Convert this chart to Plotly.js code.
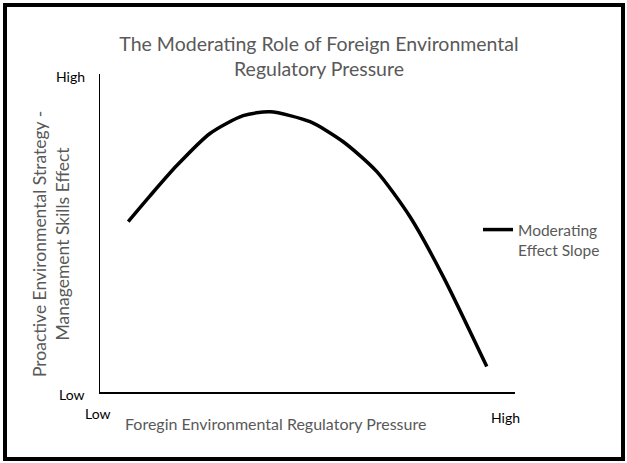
<!DOCTYPE html>
<html>
<head>
<meta charset="utf-8">
<script src="https://cdn.plot.ly/plotly-3.0.1.min.js"></script>
<style>
  html, body { margin: 0; padding: 0; background: #ffffff; }
  #wrap { position: relative; width: 627px; height: 463px; overflow: hidden; }
  #chart { position: absolute; left: 0; top: 0; width: 627px; height: 463px; }
  #frame { position: absolute; left: 3px; top: 3px; width: 622px; height: 458px;
           box-sizing: border-box; border: 4px solid #000; pointer-events: none; }
</style>
</head>
<body>
<div id="wrap">
  <div id="chart"></div>
  <div id="frame"></div>
</div>
<script>
// Data (relative scale 0-100 on both axes)
const pressureX = [6.8, 12.0, 18.5, 26.5, 34.5, 41.0, 50.6, 58.6, 66.7, 74.7, 82.7, 93.2];
const effectY   = [53.6, 61.6, 71.2, 81.3, 86.9, 88.1, 85.0, 78.7, 69.3, 55.1, 36.3, 8.0];
const seriesName = 'Moderating<br>Effect Slope';
const titleText = 'The Moderating Role of Foreign Environmental<br>Regulatory Pressure';
const xTitle = 'Foregin Environmental Regulatory Pressure';
const yTitle = 'Proactive Environmental Strategy -<br>Management Skills Effect';
const lowLabel = 'Low';
const highLabel = 'High';

const FONT = 'Lato, "Open Sans", sans-serif';
const GRAY = '#595959';

const trace = {
  x: pressureX,
  y: effectY,
  type: 'scatter',
  mode: 'lines',
  name: seriesName,
  line: { color: '#000000', width: 3.5, shape: 'spline', smoothing: 0.7 },
  hoverinfo: 'skip'
};

const layout = {
  width: 627,
  height: 463,
  paper_bgcolor: '#ffffff',
  plot_bgcolor: '#ffffff',
  margin: { l: 100, r: 112, t: 74, b: 71, pad: 0 },
  title: {
    text: titleText,
    font: { family: FONT, size: 19.5, color: GRAY },
    x: 319 / 627, xanchor: 'center', xref: 'container',
    y: 1 - 51 / 463, yanchor: 'top', yref: 'container'
  },
  xaxis: {
    range: [0, 100], fixedrange: true,
    showgrid: false, zeroline: false, showticklabels: false, ticks: '',
    showline: true, linecolor: '#000000', linewidth: 2
  },
  yaxis: {
    range: [0, 100], fixedrange: true,
    showgrid: false, zeroline: false, showticklabels: false, ticks: '',
    showline: true, linecolor: '#000000', linewidth: 1.5
  },
  showlegend: true,
  legend: {
    x: (478 - 100) / 415, xanchor: 'left', xref: 'paper',
    y: (392 - 213) / 318, yanchor: 'top', yref: 'paper',
    bgcolor: 'rgba(0,0,0,0)', borderwidth: 0,
    valign: 'top',
    font: { family: FONT, size: 15.5, color: GRAY }
  },
  annotations: [
    { text: highLabel, xref: 'paper', yref: 'paper', x: (87 - 100) / 415, y: (392 - 76) / 318,
      xanchor: 'right', yanchor: 'middle', showarrow: false,
      font: { family: FONT, size: 14, color: '#000000' } },
    { text: lowLabel, xref: 'paper', yref: 'paper', x: (87 - 100) / 415, y: (392 - 394) / 318,
      xanchor: 'right', yanchor: 'middle', showarrow: false,
      font: { family: FONT, size: 14, color: '#000000' } },
    { text: lowLabel, xref: 'paper', yref: 'paper', x: (98 - 100) / 415, y: (392 - 413) / 318,
      xanchor: 'center', yanchor: 'middle', showarrow: false,
      font: { family: FONT, size: 14, color: '#000000' } },
    { text: highLabel, xref: 'paper', yref: 'paper', x: (505 - 100) / 415, y: (392 - 417) / 318,
      xanchor: 'center', yanchor: 'middle', showarrow: false,
      font: { family: FONT, size: 14, color: '#000000' } },
    { text: xTitle, xref: 'paper', yref: 'paper', x: (275 - 100) / 415, y: (392 - 423) / 318,
      xanchor: 'center', yanchor: 'middle', showarrow: false,
      font: { family: FONT, size: 16, color: GRAY } },
    { text: yTitle, xref: 'paper', yref: 'paper', x: (51 - 100) / 415, y: (392 - 244) / 318,
      xanchor: 'center', yanchor: 'middle', showarrow: false, textangle: -90,
      font: { family: FONT, size: 17.5, color: GRAY } }
  ]
};

Plotly.newPlot('chart', [trace], layout, { staticPlot: true, displayModeBar: false });
</script>
</body>
</html>
